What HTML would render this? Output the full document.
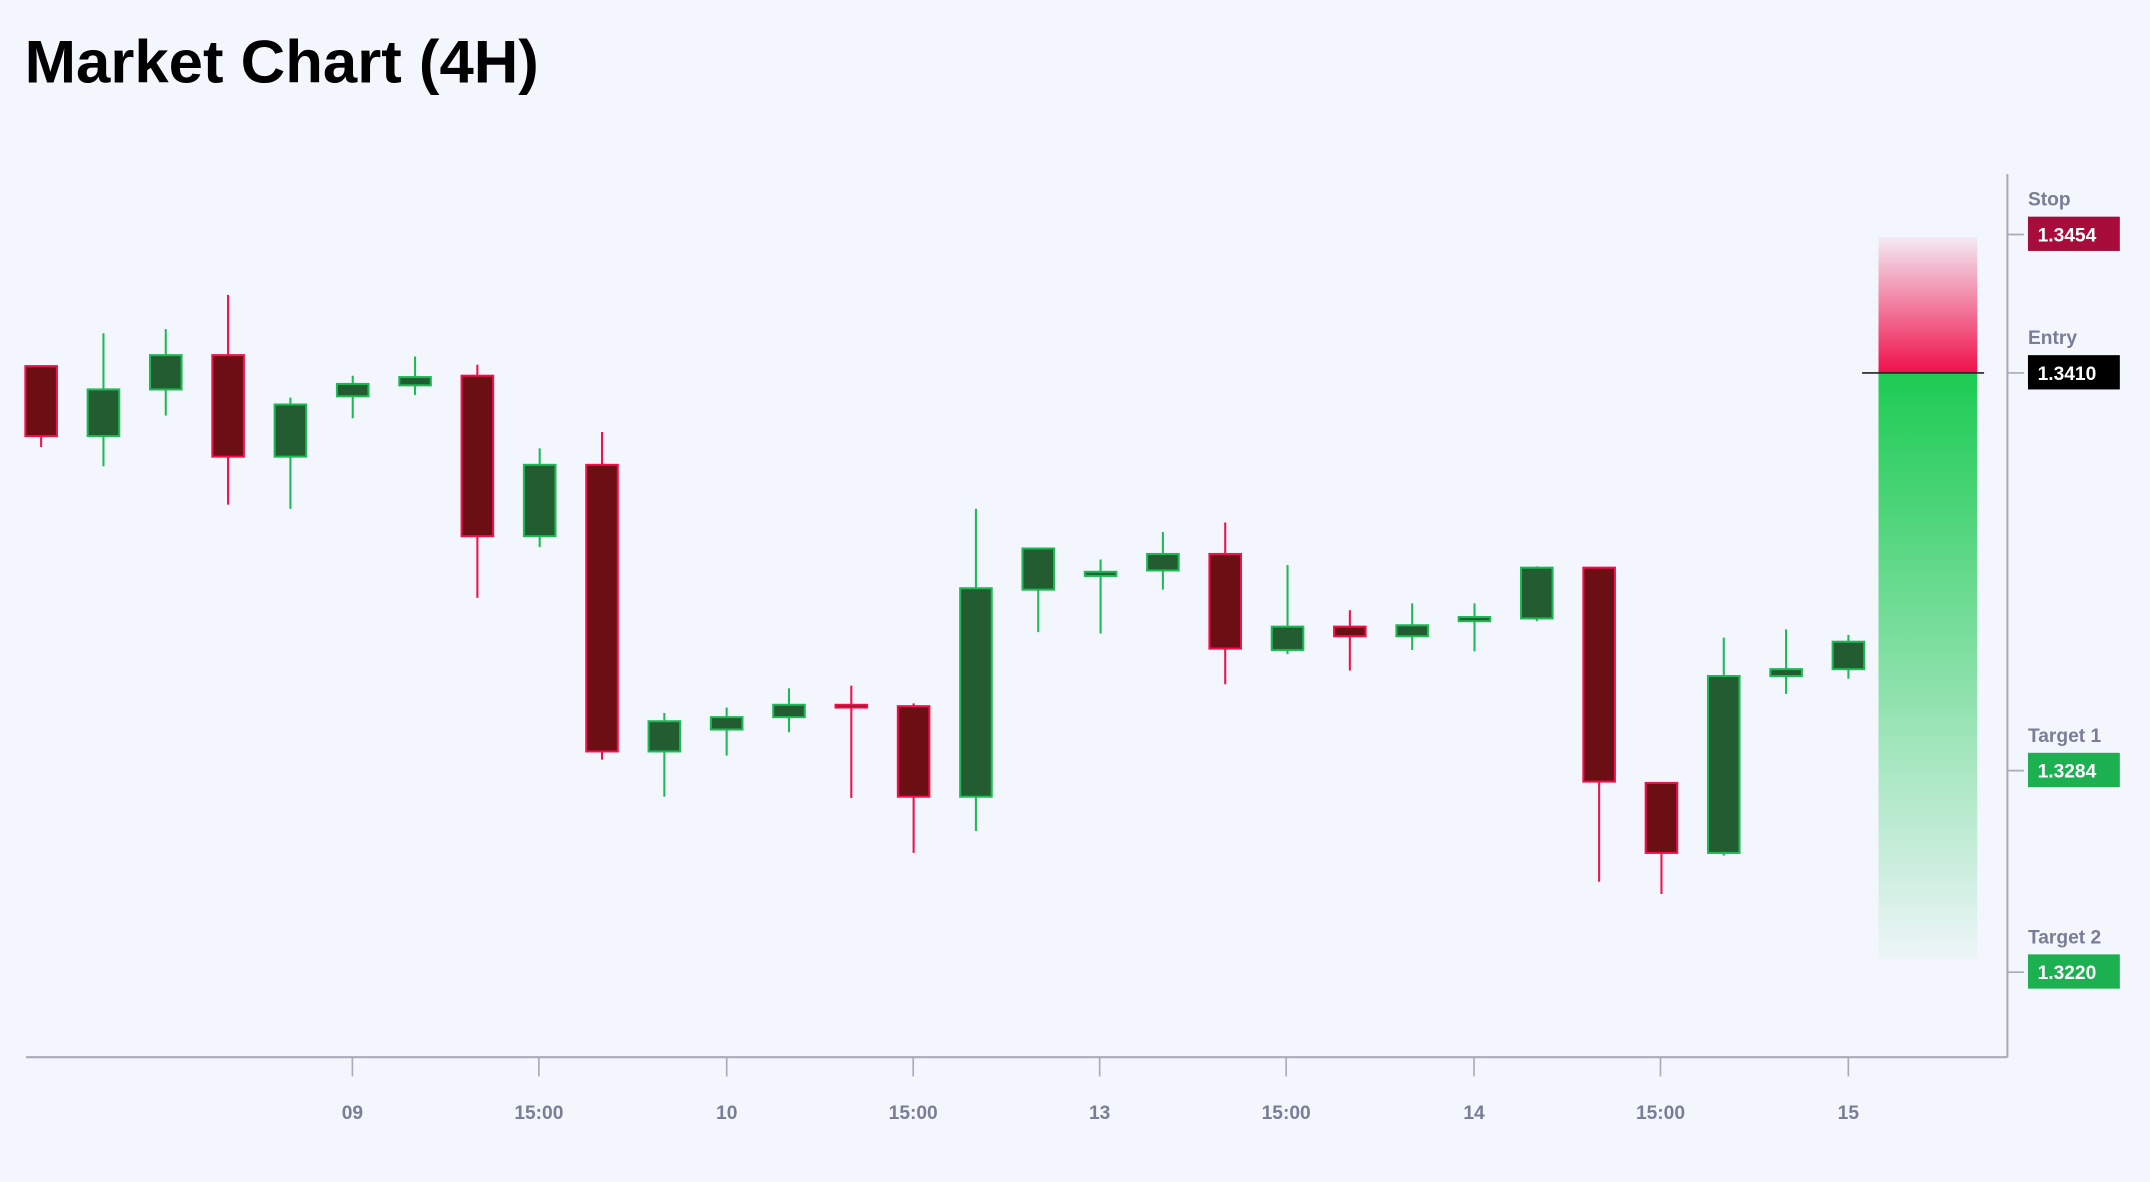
<!DOCTYPE html>
<html><head><meta charset="utf-8"><style>
html,body{margin:0;padding:0;background:#f3f6fd;}
svg{display:block;}
text{font-family:"Liberation Sans",sans-serif;}
</style></head><body>
<svg width="2150" height="1182" viewBox="0 0 1568 862" xmlns="http://www.w3.org/2000/svg">
<defs>
<linearGradient id="gr" x1="0" y1="0" x2="0" y2="1"><stop offset="0" stop-color="#f0104a" stop-opacity="0.05"/><stop offset="1" stop-color="#f0104a" stop-opacity="1"/></linearGradient>
<linearGradient id="gg" x1="0" y1="0" x2="0" y2="1"><stop offset="0" stop-color="#1ccb52" stop-opacity="1"/><stop offset="1" stop-color="#1ccb52" stop-opacity="0.03"/></linearGradient>
</defs>
<rect width="1568" height="862" fill="#f3f6fd"/>
<text x="18" y="60" font-size="44" font-weight="bold" fill="#000" textLength="375" lengthAdjust="spacingAndGlyphs">Market Chart (4H)</text>
<g id="c"></g>
<rect x="1370" y="173" width="72" height="99" fill="url(#gr)"/>
<rect x="1370" y="272" width="72" height="428" fill="url(#gg)"/>
<line x1="1358" y1="272" x2="1447" y2="272" stroke="#222" stroke-width="1.2"/>
<line x1="1464" y1="127" x2="1464" y2="771" stroke="#a8abb8" stroke-width="1.5"/>
<line x1="19" y1="771" x2="1464" y2="771" stroke="#a8abb8" stroke-width="1.5"/>
<g stroke="#a8abb8" stroke-width="1.2">
<line x1="257" y1="771" x2="257" y2="785"/><line x1="393" y1="771" x2="393" y2="785"/><line x1="530" y1="771" x2="530" y2="785"/><line x1="666" y1="771" x2="666" y2="785"/><line x1="802" y1="771" x2="802" y2="785"/><line x1="938" y1="771" x2="938" y2="785"/><line x1="1075" y1="771" x2="1075" y2="785"/><line x1="1211" y1="771" x2="1211" y2="785"/><line x1="1348" y1="771" x2="1348" y2="785"/>
<line x1="1464" y1="171" x2="1476" y2="171"/><line x1="1464" y1="272" x2="1476" y2="272"/><line x1="1464" y1="562" x2="1476" y2="562"/><line x1="1464" y1="709" x2="1476" y2="709"/>
</g>
<g font-size="14" fill="#7a7d96" text-anchor="middle" font-weight="bold">
<text x="257" y="816">09</text><text x="393" y="816">15:00</text><text x="530" y="816">10</text><text x="666" y="816">15:00</text><text x="802" y="816">13</text><text x="938" y="816">15:00</text><text x="1075" y="816">14</text><text x="1211" y="816">15:00</text><text x="1348" y="816">15</text>
</g>
<g font-size="14" fill="#7a7d96" font-weight="bold">
<text x="1479" y="150">Stop</text><text x="1479" y="251">Entry</text><text x="1479" y="541">Target 1</text><text x="1479" y="688">Target 2</text>
</g>
<rect x="1479" y="158" width="67" height="25" fill="#a80c3a"/>
<rect x="1479" y="259" width="67" height="25" fill="#000"/>
<rect x="1479" y="549" width="67" height="25" fill="#1db050"/>
<rect x="1479" y="696" width="67" height="25" fill="#1db050"/>
<g font-size="14" fill="#fff" font-weight="bold">
<text x="1486" y="176">1.3454</text><text x="1486" y="277">1.3410</text><text x="1486" y="567">1.3284</text><text x="1486" y="714">1.3220</text>
</g>
<g id="candles">
</g>
</svg>
<script>
var d=[["r",267,318,267,326],["g",284,318,243,340],["g",259,284,240,303],["r",259,333,215,368],["g",295,333,290,371],["g",280,289,274,305],["g",275,281,260,288],["r",274,391,266,436],["g",339,391,327,399],["r",339,548,315,554],["g",526,548,520,581],["g",523,532,516,551],["g",514,523,502,534],["r",514,516,500,582],["r",515,581,513,622],["g",429,581,371,606],["g",400,430,400,461],["g",417,420,408,462],["g",404,416,388,430],["r",404,473,381,499],["g",457,474,412,477],["r",457,464,445,489],["g",456,464,440,474],["g",450,453,440,475],["g",414,451,413,453],["r",414,570,414,643],["r",571,622,571,652],["g",493,622,465,624],["g",488,493,459,506],["g",468,488,463,495]];
var s="",ns="http://www.w3.org/2000/svg";
d.forEach(function(c,i){var x=30+i*45.45;var st=c[0]=="r"?"#f0104a":"#1db954";var f=c[0]=="r"?"#6b0f14":"#235c30";
s+='<line x1="'+x+'" y1="'+c[3]+'" x2="'+x+'" y2="'+c[4]+'" stroke="'+st+'" stroke-width="1.5"/>';
s+='<rect x="'+(x-11.5)+'" y="'+c[1]+'" width="23" height="'+Math.max(c[2]-c[1],2)+'" fill="'+f+'" stroke="'+st+'" stroke-width="1.5"/>';});
document.getElementById("candles").innerHTML=s;
</script>
</body></html>
